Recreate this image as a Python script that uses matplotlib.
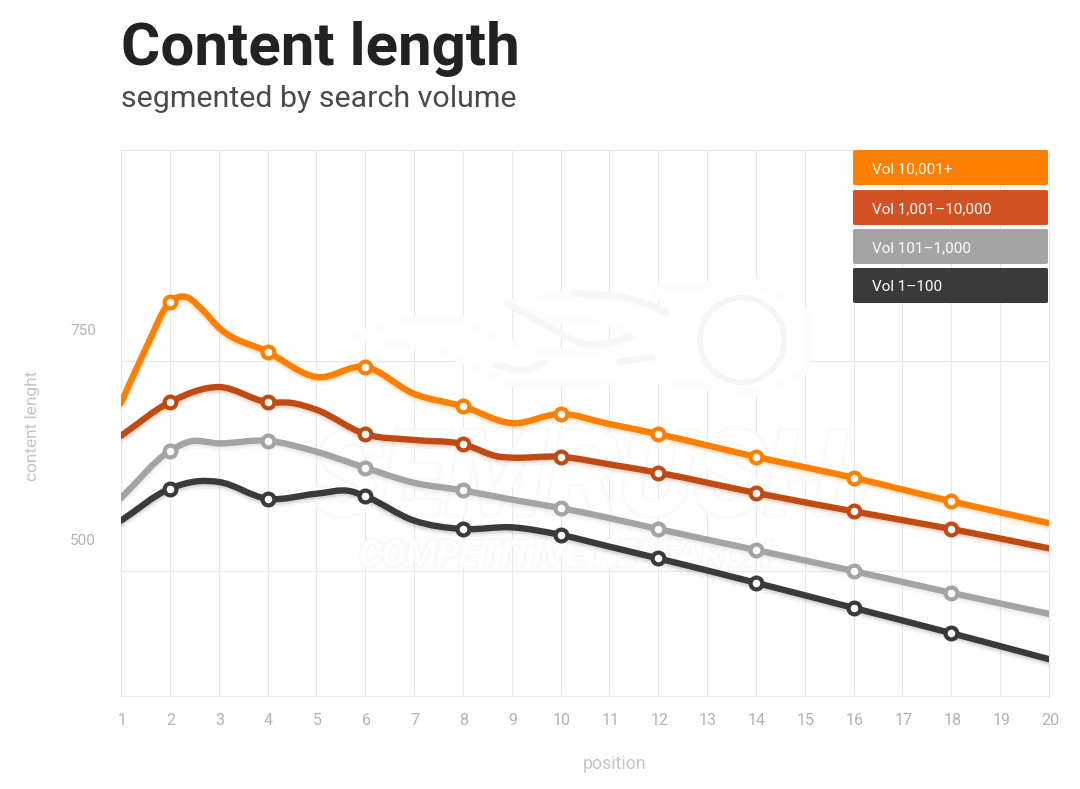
import numpy as np
import matplotlib
matplotlib.use('Agg')
import matplotlib.pyplot as plt
from matplotlib.path import Path
from matplotlib.patches import PathPatch, FancyBboxPatch
from matplotlib.transforms import ScaledTranslation
import matplotlib.patheffects as pe

plt.rcParams['font.family'] = ['Roboto', 'DejaVu Sans']

# values, extra x positions keep the bends of the curves
orange_x = [1, 1.5, 2, 2.35, 2.65, 3, 4, 5, 6, 7, 8, 9, 10, 11, 12, 14, 16, 18, 20]
orange_y = [700, 764, 820, 826, 812, 790, 761, 731, 743, 711, 696, 676, 687, 675, 663, 636, 611, 583, 557]
red_x = [1, 2, 3, 4, 4.5, 5, 6, 7, 8, 8.75, 9, 10, 11, 12, 14, 16, 18, 20]
red_y = [661, 701, 719, 701, 700, 692, 663, 656, 651, 636, 635, 636, 627, 617, 593, 571, 550, 527]
grey_x = [1, 2, 2.4, 3, 4, 5, 6, 7, 8, 9, 10, 11, 12, 14, 16, 18, 20]
grey_y = [587, 643, 654, 652, 655, 642, 623, 605, 596, 585, 575, 563, 550, 525, 500, 474, 449]
dark_x = [1, 2, 2.6, 3, 4, 5, 5.7, 6, 7, 8, 9, 10, 11, 12, 14, 16, 18, 20]
dark_y = [560, 598, 607, 606, 586, 592, 595, 589, 560, 550, 552, 543, 529, 515, 486, 456, 426, 395]

marker_x = [2, 4, 6, 8, 10, 12, 14, 16, 18]
legend_labels = ['Vol 10,001+', 'Vol 1,001\u201310,000', 'Vol 101\u20131,000', 'Vol 1\u2013100']
legend_colors = ['#ff7f00', '#d35122', '#a4a4a4', '#3a3a3a']
line_colors = ['#ff7f00', '#c04a12', '#a4a4a4', '#3a3a3a']

# watermark outline, pixels of the picture
flame_px = [(353, 337), (407, 320), (463, 320), (497, 337), (540, 353), (607, 350), (630, 337), (613, 323),
            (553, 320), (507, 303), (573, 293), (640, 303), (667, 313), (657, 290), (757, 282), (807, 313),
            (807, 370), (757, 393), (657, 380), (573, 383), (507, 383), (440, 350), (353, 337)]
streaks_px = [[(507, 303), (545, 325), (590, 345), (630, 337)],
              [(573, 293), (620, 297), (650, 305), (667, 313)],
              [(497, 365), (525, 370), (543, 363)],
              [(620, 362), (640, 359), (652, 357)]]


def smooth_path(x, y):
    # catmull-rom tangents turned into bezier segments
    x = np.array(x, float)
    y = np.array(y, float)
    m = np.gradient(y, x)
    verts = [(x[0], y[0])]
    codes = [Path.MOVETO]
    for i in range(len(x) - 1):
        d = (x[i + 1] - x[i]) / 3
        verts += [(x[i] + d, y[i] + m[i] * d),
                  (x[i + 1] - d, y[i + 1] - m[i + 1] * d),
                  (x[i + 1], y[i + 1])]
        codes += [Path.CURVE4] * 3
    return Path(verts, codes)


def px(points):
    return [(p[0] / 1080, 1 - p[1] / 789) for p in points]


fig = plt.figure(figsize=(10.8, 7.89), dpi=100, facecolor='white')
ax = fig.add_axes([121 / 1080, 1 - 696 / 789, 928 / 1080, 546 / 789])
ax.set_xlim(1, 20)
ax.set_ylim(351.2, 1001.2)

ax.set_xticks(np.arange(1, 21))
ax.set_yticks([500, 750])
ax.grid(True, color='#e8e8e8', lw=0.8, zorder=0)
ax.set_axisbelow(True)
for s in ax.spines.values():
    s.set_color('#e8e8e8')
    s.set_linewidth(0.8)
ax.tick_params(length=0, labelcolor='#b2b3b6', labelsize=11.5)
ax.tick_params(axis='x', pad=12)
ax.tick_params(axis='y', pad=18)
for lab in ax.get_yticklabels():
    lab.set_fontsize(11)

x_shift = ScaledTranslation(1 / 100, 0, fig.dpi_scale_trans)
y_shift = ScaledTranslation(0, 32 / 100, fig.dpi_scale_trans)
for lab in ax.get_xticklabels():
    lab.set_transform(lab.get_transform() + x_shift)
for lab in ax.get_yticklabels():
    lab.set_transform(lab.get_transform() + y_shift)

# faint logo behind the lines
fig_tr = fig.transFigure
ax.text(578 / 1080, 1 - 482 / 789, 'SEMRUSH', transform=fig_tr, ha='center', va='center',
        fontsize=85, fontweight='bold', style='italic', color='white',
        path_effects=[pe.withStroke(linewidth=4, foreground='#fafafa')], zorder=1)
ax.text(565 / 1080, 1 - 556 / 789, 'COMPETITIVE RESEARCH', transform=fig_tr, ha='center', va='center',
        fontsize=26, fontweight='bold', style='italic', color='white',
        path_effects=[pe.withStroke(linewidth=3, foreground='#fafafa')], zorder=1)
ax.add_patch(PathPatch(Path(px(flame_px)), transform=fig_tr, fc='white', ec='#fdfdfd', lw=5,
                       joinstyle='round', zorder=1, clip_on=False))
for st in streaks_px:
    sx, sy = zip(*px(st))
    ax.add_patch(PathPatch(smooth_path(sx, sy), transform=fig_tr, fill=False, ec='#f7f7f7', lw=5,
                           capstyle='round', zorder=1))
ax.scatter([742 / 1080], [1 - 340 / 789], transform=fig_tr, s=3700, fc='none', ec='#f5f5f5', lw=4, zorder=1)

series = [(orange_x, orange_y), (red_x, red_y), (grey_x, grey_y), (dark_x, dark_y)]
for (xs, ys), col in zip(series, line_colors):
    shadow = [pe.SimpleLineShadow(offset=(0, -3), shadow_color=col, alpha=0.06, linewidth=5.5),
              pe.SimpleLineShadow(offset=(0, -1.5), shadow_color=col, alpha=0.12, linewidth=5),
              pe.Normal()]
    ax.add_patch(PathPatch(smooth_path(xs, ys), fill=False, ec=col, lw=4.6, capstyle='round',
                           zorder=3, path_effects=shadow))
    xa = np.array(xs, float)
    keep = np.isin(xa, marker_x)
    ax.plot(xa[keep], np.array(ys, float)[keep], ls='none', marker='o', ms=8.5, mfc='white',
            mec=col, mew=3, zorder=4)

fig.text(121 / 1080, 1 - 49 / 789, 'Content length', fontsize=43.3, fontweight='bold',
         color='#222222', ha='left', va='center')
fig.text(121 / 1080, 1 - 99 / 789, 'segmented by search volume', fontsize=21.9,
         color='#4a4a4a', ha='left', va='center')
fig.text(32 / 1080, 1 - 426 / 789, 'content lenght', fontsize=12.4, color='#c4c4c4',
         rotation=90, ha='center', va='center')
fig.text(615 / 1080, 1 - 764 / 789, 'position', fontsize=12.8, color='#c4c6c8',
         ha='center', va='center')

# legend buttons
tops = [150, 190, 229, 268]
for top, lab, col in zip(tops, legend_labels, legend_colors):
    ax.add_patch(FancyBboxPatch((853 / 1080, 1 - (top + 35) / 789), 195 / 1080, 35 / 789,
                                boxstyle='round,pad=0,rounding_size=0.002', transform=fig_tr,
                                fc=col, ec='none', zorder=6, clip_on=False))
    ax.text(872 / 1080, 1 - (top + 19) / 789, lab, transform=fig_tr, color='white', fontsize=11,
            ha='left', va='center', zorder=7)

fig.savefig('out.png', dpi=100)
